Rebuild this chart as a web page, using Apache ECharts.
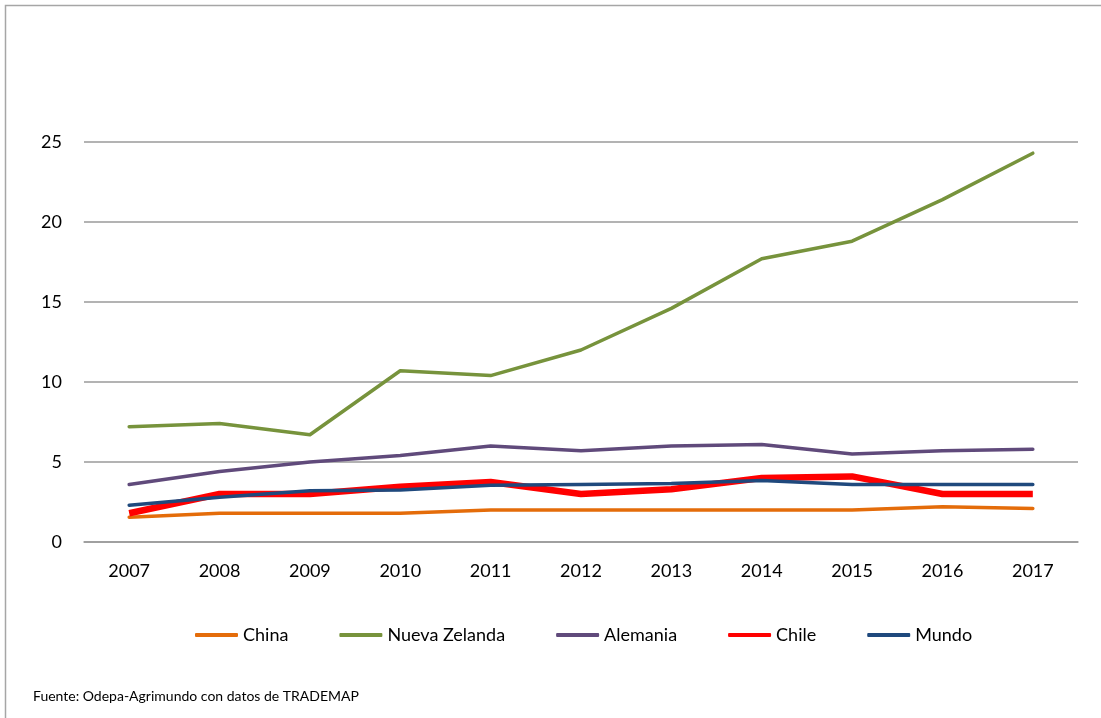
<!DOCTYPE html>
<html>
<head>
<meta charset="utf-8">
<script src="https://cdn.jsdelivr.net/npm/echarts@6/dist/echarts.min.js"></script>
<style>
    html, body { margin: 0; padding: 0; background: #fff; }
    #chart { width: 1101px; height: 718px; }
</style>
</head>
<body>
<div id="chart"></div>
<script>
'use strict';
var years = ['2007', '2008', '2009', '2010', '2011', '2012', '2013', '2014', '2015', '2016', '2017'];
var china = [1.55, 1.8, 1.8, 1.8, 2.0, 2.0, 2.0, 2.0, 2.0, 2.2, 2.1];
var nuevaZelanda = [7.2, 7.4, 6.7, 10.7, 10.4, 12.0, 14.6, 17.7, 18.8, 21.4, 24.3];
var alemania = [3.6, 4.4, 5.0, 5.4, 6.0, 5.7, 6.0, 6.1, 5.5, 5.7, 5.8];
var chile = [1.8, 3.0, 3.0, 3.45, 3.75, 3.0, 3.3, 4.0, 4.1, 3.0, 3.0];
var mundo = [2.3, 2.8, 3.2, 3.25, 3.55, 3.6, 3.65, 3.85, 3.6, 3.6, 3.6];
var yTicks = { min: 0, max: 25, interval: 5 };

var fontName = 'Lato, "Open Sans", sans-serif';
var chart = echarts.init(document.getElementById('chart'));

function lineSeries(name, data, color, width, cap) {
    return {
        name: name,
        type: 'line',
        data: data,
        symbol: 'none',
        animation: false,
        lineStyle: {
            color: color,
            width: width,
            cap: cap,
            join: 'round'
        },
        itemStyle: { color: color }
    };
}

var options = {
    animation: false,
    textStyle: { fontFamily: fontName },
    graphic: [{
        type: 'rect',
        shape: { x: 5.5, y: 5.5, width: 1200, height: 800 },
        style: { fill: 'none', stroke: '#a6a6a6', lineWidth: 1.5 },
        silent: true
    }, {
        type: 'text',
        left: 33,
        top: 689,
        style: {
            text: 'Fuente: Odepa-Agrimundo con datos de TRADEMAP',
            fontFamily: fontName,
            fontSize: 14,
            fill: '#000'
        }
    }],
    grid: {
        left: 84,
        right: 23,
        top: 142,
        bottom: 176
    },
    legend: {
        left: 190,
        top: 621,
        itemWidth: 43,
        itemHeight: 4,
        itemGap: 51,
        icon: 'roundRect',
        textStyle: { fontFamily: fontName, fontSize: 18, color: '#000' },
        data: ['China', 'Nueva Zelanda', 'Alemania', 'Chile', 'Mundo']
    },
    xAxis: {
        type: 'category',
        data: years,
        boundaryGap: true,
        axisLine: { lineStyle: { color: '#9a9a9a', width: 1.5 } },
        axisTick: { show: false },
        axisLabel: { color: '#000', fontSize: 18, margin: 20, fontFamily: fontName }
    },
    yAxis: {
        type: 'value',
        min: yTicks.min,
        max: yTicks.max,
        interval: yTicks.interval,
        axisLine: { show: false },
        axisTick: { show: false },
        axisLabel: { color: '#000', fontSize: 18, margin: 22, fontFamily: fontName },
        splitLine: { lineStyle: { color: '#9a9a9a', width: 1.5 } }
    },
    series: [
        lineSeries('China', china, '#E46C0A', 3.5, 'round'),
        lineSeries('Nueva Zelanda', nuevaZelanda, '#77933C', 3.5, 'round'),
        lineSeries('Alemania', alemania, '#604A7B', 3.5, 'round'),
        lineSeries('Chile', chile, '#FF0000', 6.5, 'butt'),
        lineSeries('Mundo', mundo, '#1F497D', 3.5, 'round')
    ]
};
chart.setOption(options);
</script>
</body>
</html>
